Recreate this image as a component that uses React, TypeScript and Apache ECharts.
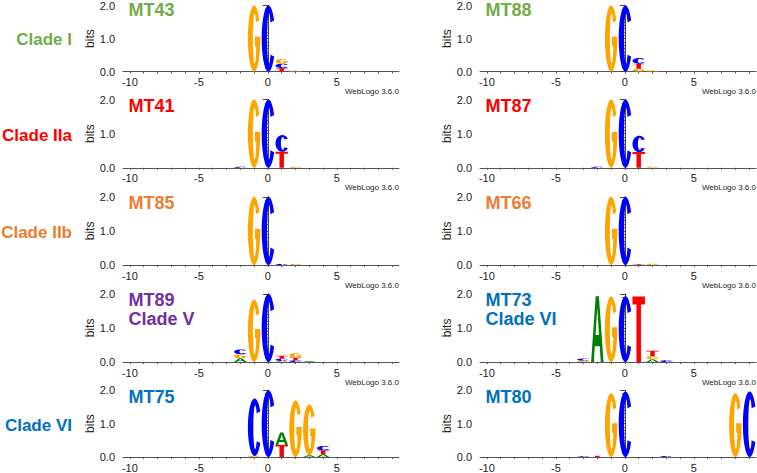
import React, { useEffect, useRef } from 'react';
import * as echarts from 'echarts';

type Entry = [number, string, number];

// sequence positions and tick labels
const POSITIONS = [-10, -9, -8, -7, -6, -5, -4, -3, -2, -1, 0, 1, 2, 3, 4, 5, 6, 7, 8, 9];
const X_LABELS = [-10, -5, 0, 5];

// [position, letter, bits]
const MT43: Entry[] = [[-1, 'G', 2.0], [0, 'C', 2.0], [1, 'T', 0.11], [1, 'C', 0.13], [1, 'G', 0.14], [2, 'G', 0.03]];
const MT88: Entry[] = [[-1, 'G', 2.0], [0, 'C', 2.0], [1, 'G', 0.09], [1, 'T', 0.15], [1, 'C', 0.17], [2, 'G', 0.04], [3, 'T', 0.02]];
const MT41: Entry[] = [[-2, 'C', 0.03], [-1, 'G', 2.0], [0, 'C', 2.0], [1, 'T', 0.47], [1, 'C', 0.49], [2, 'G', 0.03]];
const MT87: Entry[] = [[-2, 'C', 0.03], [-1, 'G', 2.0], [0, 'C', 2.0], [1, 'T', 0.46], [1, 'C', 0.48], [2, 'G', 0.03]];
const MT85: Entry[] = [[-1, 'G', 2.0], [0, 'C', 2.0], [1, 'C', 0.03], [2, 'G', 0.03]];
const MT66: Entry[] = [[-1, 'G', 2.0], [0, 'C', 2.0], [1, 'T', 0.02], [2, 'G', 0.04]];
const MT89: Entry[] = [[-2, 'A', 0.11], [-2, 'G', 0.12], [-2, 'C', 0.14], [-1, 'G', 1.83], [0, 'C', 2.0], [1, 'G', 0.03], [1, 'C', 0.07], [1, 'T', 0.08], [2, 'C', 0.05], [2, 'T', 0.08], [2, 'G', 0.13], [3, 'A', 0.03]];
const MT73: Entry[] = [[-3, 'G', 0.04], [-3, 'C', 0.06], [-2, 'A', 1.93], [-1, 'G', 1.92], [0, 'C', 1.93], [1, 'T', 1.92], [2, 'A', 0.08], [2, 'G', 0.09], [2, 'T', 0.16], [3, 'C', 0.05]];
const MT75: Entry[] = [[-1, 'G', 0.03], [-1, 'C', 1.72], [0, 'C', 2.0], [1, 'T', 0.36], [1, 'A', 0.37], [2, 'G', 1.69], [3, 'A', 0.05], [3, 'G', 1.52], [4, 'A', 0.08], [4, 'T', 0.12], [4, 'C', 0.13]];
const MT80: Entry[] = [[-3, 'C', 0.02], [-2, 'T', 0.04], [-1, 'G', 1.91], [0, 'C', 1.96], [3, 'C', 0.03], [8, 'G', 1.91], [9, 'C', 1.96]];

const PANEL_NAMES = ['MT43', 'MT88', 'MT41', 'MT87', 'MT85', 'MT66', 'MT89', 'MT73', 'MT75', 'MT80'];
const PANEL_DATA = [MT43, MT88, MT41, MT87, MT85, MT66, MT89, MT73, MT75, MT80];
const PANEL_SUBTITLES = ['', '', '', '', '', '', 'Clade V', 'Clade VI', '', ''];
const CLADE_LABELS = ['Clade I', 'Clade IIa', 'Clade IIb', '', 'Clade VI'];

const GREEN = '#70AD47';
const RED = '#FF0000';
const ORANGE = '#ED7D31';
const PURPLE = '#7030A0';
const BLUE = '#0070C0';
const PANEL_COLORS = [GREEN, GREEN, RED, RED, ORANGE, ORANGE, PURPLE, BLUE, BLUE, BLUE];
const CLADE_COLORS = [GREEN, RED, ORANGE, PURPLE, BLUE];

const LETTERS = ['A', 'C', 'G', 'T'];
const LETTER_COLORS = ['#008000', '#0000FF', '#FFA500', '#FF0000'];

// glyph outlines in a 0..1 box (shape only): list of [polygon, isHole]
function ell(cx: number, cy: number, rx: number, ry: number, a0: number, a1: number): number[][] {
  const n = Math.max(2, Math.ceil(Math.abs(a1 - a0) / 5));
  const pts: number[][] = [];
  for (let k = 0; k <= n; k++) {
    const a = ((a0 + ((a1 - a0) * k) / n) * Math.PI) / 180;
    pts.push([cx + rx * Math.cos(a), cy - ry * Math.sin(a)]);
  }
  return pts;
}
function normalize(polys: number[][][]): number[][][] {
  let x0 = Infinity, x1 = -Infinity, y0 = Infinity, y1 = -Infinity;
  polys[0].forEach((p) => {
    x0 = Math.min(x0, p[0]); x1 = Math.max(x1, p[0]);
    y0 = Math.min(y0, p[1]); y1 = Math.max(y1, p[1]);
  });
  return polys.map((poly) => poly.map((p) => [(p[0] - x0) / (x1 - x0), (p[1] - y0) / (y1 - y0)]));
}
const GLYPH_A = normalize([
  [[0, 100], [37, 0], [63, 0], [100, 100], [78, 100], [70, 76], [30, 76], [22, 100]],
  [[36, 59], [64, 59], [50, 18]],
]);
const GLYPH_C = normalize([[...ell(50, 50, 50, 50, 33, 327), ...ell(54, 50, 14, 38, 320, 40)]]);
const GLYPH_G = normalize([[
  ...ell(50, 50, 50, 50, 33, 355),
  [100, 47],
  [57, 47],
  [57, 62],
  ...ell(54, 50, 14, 38, 341.6, 40),
]]);
const GLYPH_T = normalize([[[0, 0], [100, 0], [100, 12], [68, 12], [68, 100], [32, 100], [32, 12], [0, 12]]]);
const GLYPHS = [GLYPH_A, GLYPH_C, GLYPH_G, GLYPH_T];

const FONT = '"Liberation Sans", Arial, Helvetica, sans-serif';
const ROW_TOPS = [3.4, 99.6, 196.8, 293.8, 390.2];
const PLOT_H = 68.2;
const COL_LEFT = [123, 480];
const PLOT_W = 276;
const HALF_W = 0.45;

function stack(entries: Entry[]) {
  const byPos: Record<number, Entry[]> = {};
  entries.forEach((e) => {
    (byPos[e[0]] = byPos[e[0]] || []).push(e);
  });
  const out: number[][] = [];
  Object.keys(byPos).forEach((k) => {
    const list = byPos[Number(k)].slice().sort((a, b) => a[2] - b[2]);
    let base = 0;
    list.forEach((e) => {
      out.push([e[0], base, base + e[2], LETTERS.indexOf(e[1])]);
      base += e[2];
    });
  });
  return out;
}

export default function App() {
  const ref = useRef<HTMLDivElement>(null);
  useEffect(() => {
    if (!ref.current) return;
    const chart = echarts.init(ref.current, undefined, { renderer: 'svg' });
    const grids: any[] = [];
    const xAxes: any[] = [];
    const yAxes: any[] = [];
    const series: any[] = [];
    const graphics: any[] = [];

    PANEL_DATA.forEach((data, i) => {
      const row = Math.floor(i / 2);
      const col = i % 2;
      const top = ROW_TOPS[row];
      const left = COL_LEFT[col];
      grids.push({ left, top, width: PLOT_W, height: PLOT_H, containLabel: false });
      xAxes.push({
        type: 'value',
        gridIndex: i,
        min: -10.5,
        max: 9.5,
        axisLine: { show: true, lineStyle: { color: '#555', width: 1 } },
        axisTick: { show: true, customValues: POSITIONS, length: 2, lineStyle: { color: '#555' } },
        axisLabel: { customValues: X_LABELS, fontSize: 11, color: '#222', margin: 5, fontFamily: FONT },
        splitLine: { show: false },
      });
      yAxes.push({
        type: 'value',
        gridIndex: i,
        min: 0,
        max: 2,
        interval: 1,
        name: 'bits',
        nameLocation: 'middle',
        nameGap: 26,
        nameTextStyle: { fontSize: 12, color: '#222', fontFamily: FONT },
        axisLine: { show: true, lineStyle: { color: '#444', width: 1 } },
        axisTick: { show: true, length: 5, lineStyle: { color: '#444' } },
        minorTick: { show: true, splitNumber: 10, length: 3, lineStyle: { color: '#666' } },
        axisLabel: { fontSize: 11, color: '#222', margin: 8, fontFamily: FONT, formatter: (v: number) => v.toFixed(1) },
        splitLine: { show: false },
        minorSplitLine: { show: false },
      });
      series.push({
        type: 'custom',
        xAxisIndex: i,
        yAxisIndex: i,
        clip: false,
        data: stack(data),
        renderItem: (_p: any, api: any) => {
          const pos = api.value(0);
          const base = api.value(1);
          const tp = api.value(2);
          const li = api.value(3);
          const p0 = api.coord([pos - HALF_W, base]);
          const p1 = api.coord([pos + HALF_W, tp]);
          const w = p1[0] - p0[0];
          const h = p0[1] - p1[1];
          if (h <= 0) return null;
          const children = GLYPHS[li].map((poly, idx) => ({
            type: 'polygon',
            shape: { points: poly.map((q) => [p0[0] + q[0] * w, p1[1] + q[1] * h]) },
            style: { fill: idx === 0 ? LETTER_COLORS[li] : '#ffffff', stroke: null },
          }));
          return { type: 'group', children };
        },
      });
      // panel title
      const tx = left + 5.5;
      graphics.push({
        type: 'text',
        x: tx,
        y: top + 6.5,
        style: {
          text: PANEL_NAMES[i],
          fill: PANEL_COLORS[i],
          font: `bold 18px ${FONT}`,
          textAlign: 'left',
          textVerticalAlign: 'middle',
          align: 'left',
          verticalAlign: 'middle',
        },
      });
      if (PANEL_SUBTITLES[i]) {
        graphics.push({
          type: 'text',
          x: tx,
          y: top + 25,
          style: {
            text: PANEL_SUBTITLES[i],
            fill: PANEL_COLORS[i],
            font: `bold 18px ${FONT}`,
            textAlign: 'left',
            textVerticalAlign: 'middle',
            align: 'left',
            verticalAlign: 'middle',
          },
        });
      }
      if (row < 4) {
        graphics.push({
          type: 'text',
          x: left + PLOT_W,
          y: top + PLOT_H + 20,
          style: {
            text: 'WebLogo 3.6.0',
            fill: '#222',
            font: `8px ${FONT}`,
            textAlign: 'right',
            textVerticalAlign: 'middle',
            align: 'right',
            verticalAlign: 'middle',
          },
        });
      }
    });

    CLADE_LABELS.forEach((lab, r) => {
      if (!lab) return;
      graphics.push({
        type: 'text',
        x: 72,
        y: ROW_TOPS[r] + PLOT_H / 2 + 1.5,
        style: {
          text: lab,
          fill: CLADE_COLORS[r],
          font: `bold 17px ${FONT}`,
          textAlign: 'right',
          textVerticalAlign: 'middle',
          align: 'right',
          verticalAlign: 'middle',
        },
      });
    });

    chart.setOption({
      animation: false,
      backgroundColor: '#ffffff',
      grid: grids,
      xAxis: xAxes,
      yAxis: yAxes,
      series,
      graphic: { elements: graphics },
    });
    return () => chart.dispose();
  }, []);
  return (
    <div
      ref={ref}
      style={{ position: 'fixed', left: 0, top: 0, width: 757, height: 473, background: '#fff' }}
    />
  );
}
